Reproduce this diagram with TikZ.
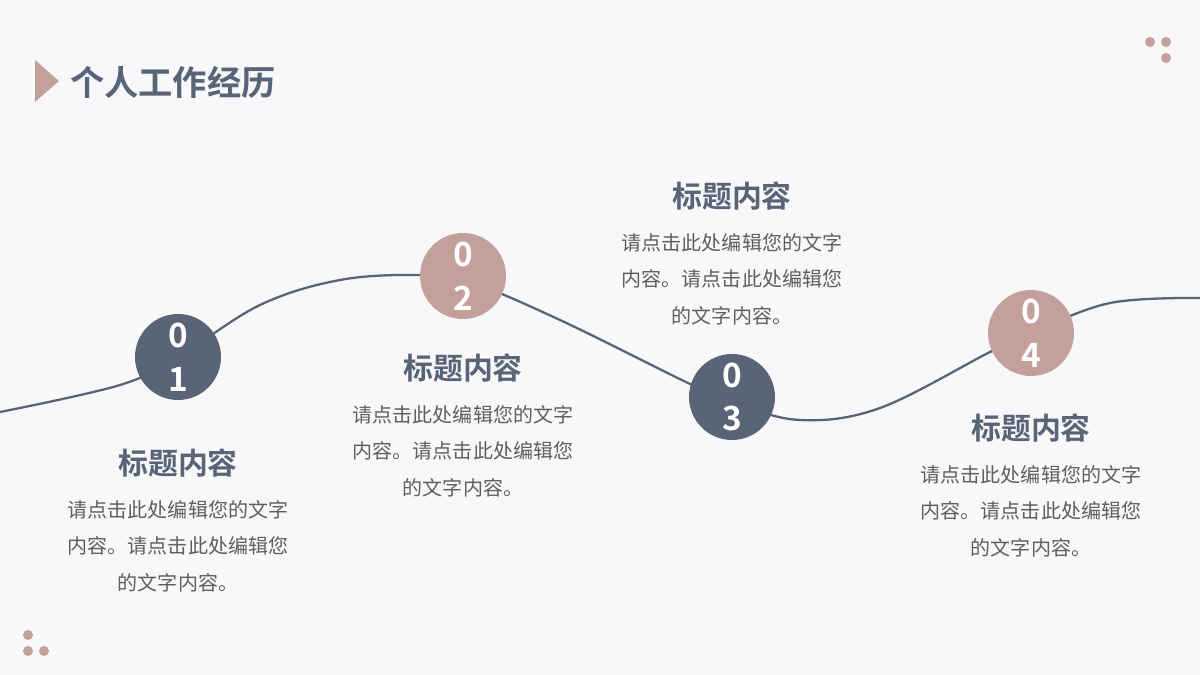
\documentclass[tikz,border=0pt]{standalone}
\usepackage{fontspec}
\newfontfamily\cjk{Noto Sans CJK SC}
\newfontfamily\cjkb{Noto Sans CJK SC Bold}
\definecolor{dk}{HTML}{5A6477}
\definecolor{pk}{HTML}{C4A09C}
\definecolor{bg}{HTML}{F8F8FA}
\definecolor{tx}{HTML}{5F5F5F}
\begin{document}
\begin{tikzpicture}[x=0.02cm,y=-0.02cm,
  circ/.style={circle,minimum size=1.72cm,inner sep=0pt,text=white,font=\cjkb\fontsize{19}{25}\selectfont,align=center},
  head/.style={font=\cjkb\fontsize{17}{20}\selectfont,text=dk},
  body/.style={font=\cjk\fontsize{11.4}{20.8}\selectfont,text=tx,align=center},
  dot/.style={circle,fill=pk,inner sep=0pt,minimum size=0.2cm}]
\fill[bg] (0,0) rectangle (1200,675);
\useasboundingbox (0,0) rectangle (1200,675);
\fill[pk] (35,60) -- (59,81) -- (35,102) -- cycle;
\node[anchor=west,font=\cjkb\fontsize{19.5}{22}\selectfont,text=dk] (title) at (64,82) {个人工作经历};
\foreach \n/\p in {a/{1150,42},b/{1166,42},c/{1166,58},d/{28,635},e/{28,651},f/{44,651}}
  \node[dot] (\n) at (\p) {};
\draw[dk,line width=1.3pt] plot[smooth,tension=0.6] coordinates {(0,412) (120,385) (178,357) (260,305) (340,280) (420,275) (470,282) (560,320) (690,384) (732,402) (800,420) (880,408) (990,352) (1031,333) (1110,303) (1200,298)};
\node[circ,fill=dk] (c1) at (178,357) {0\\1};
\node[circ,fill=pk] (c2) at (463,276) {0\\2};
\node[circ,fill=dk] (c3) at (732,397) {0\\3};
\node[circ,fill=pk] (c4) at (1031,333) {0\\4};
\node[head] (h1) at (178,463) {标题内容};
\node[body,anchor=north] (b1) at (178,494) {请点击此处编辑您的文字\\内容。请点击此处编辑您\\的文字内容。};
\node[head] (h2) at (463,368) {标题内容};
\node[body,anchor=north] (b2) at (463,399) {请点击此处编辑您的文字\\内容。请点击此处编辑您\\的文字内容。};
\node[head] (h3) at (732,196) {标题内容};
\node[body,anchor=north] (b3) at (732,227) {请点击此处编辑您的文字\\内容。请点击此处编辑您\\的文字内容。};
\node[head] (h4) at (1031,428) {标题内容};
\node[body,anchor=north] (b4) at (1031,459) {请点击此处编辑您的文字\\内容。请点击此处编辑您\\的文字内容。};
\end{tikzpicture}
\end{document}
